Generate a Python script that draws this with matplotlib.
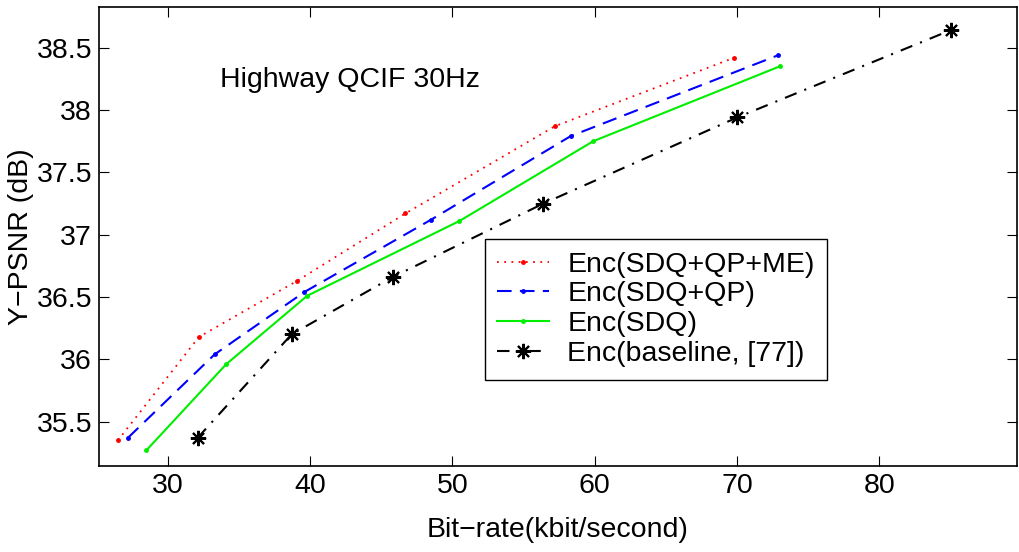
import matplotlib
matplotlib.use("Agg")
import matplotlib.pyplot as plt

plt.rcParams['font.family'] = ['Liberation Sans', 'DejaVu Sans']

# rate (kbit/s) and Y-PSNR (dB) for each encoder
rate_me = [26.5, 32.2, 39.1, 46.7, 57.2, 69.8]
psnr_me = [35.35, 36.18, 36.63, 37.17, 37.87, 38.42]

rate_qp = [27.2, 33.3, 39.6, 48.5, 58.3, 72.9]
psnr_qp = [35.37, 36.04, 36.54, 37.12, 37.79, 38.44]

rate_sdq = [28.5, 34.1, 39.8, 50.5, 59.9, 73.0]
psnr_sdq = [35.27, 35.96, 36.51, 37.11, 37.75, 38.35]

rate_base = [32.1, 38.7, 45.8, 56.4, 70.0, 85.0]
psnr_base = [35.37, 36.20, 36.66, 37.25, 37.94, 38.64]

labels = ['Enc(SDQ+QP+ME)', 'Enc(SDQ+QP)', 'Enc(SDQ)', 'Enc(baseline, [77])']

fs = 20.5

fig = plt.figure(figsize=(10.19, 5.52), dpi=100)
ax = fig.add_axes([0.0972, 0.1558, 0.9008, 0.8315])

ax.plot(rate_me, psnr_me, color='red', linestyle=(0, (1, 3)), lw=1.3,
        marker='.', markersize=5, label=labels[0])
ax.plot(rate_qp, psnr_qp, color='blue', linestyle=(0, (7, 4)), lw=1.5,
        marker='.', markersize=5, label=labels[1])
ax.plot(rate_sdq, psnr_sdq, color='#00ee00', linestyle='-', lw=1.5,
        marker='.', markersize=5, label=labels[2])
ax.plot(rate_base, psnr_base, color='black', linestyle=(0, (6, 4, 1, 4)), lw=1.5,
        marker=(8, 2, 0), markersize=11, markeredgewidth=1.5, label=labels[3])

ax.set_xlim(25.18, 89.66)
ax.set_ylim(35.145, 38.826)
ax.set_xticks([30, 40, 50, 60, 70, 80])
ax.set_yticks([35.5, 36, 36.5, 37, 37.5, 38, 38.5])
ax.set_yticklabels(['35.5', '36', '36.5', '37', '37.5', '38', '38.5'])
ax.tick_params(direction='in', length=7, top=True, right=True, labelsize=fs, pad=5)
for s in ax.spines.values():
    s.set_linewidth(1.2)

ax.set_xlabel('Bit\u2212rate(kbit/second)', fontsize=fs, labelpad=13)
ax.set_ylabel('Y\u2212PSNR (dB)', fontsize=fs, labelpad=2)

ax.text(33.7, 38.24, 'Highway QCIF 30Hz', fontsize=fs, va='center', ha='left')

leg = ax.legend(loc='upper left', bbox_to_anchor=(0.42, 0.495), fontsize=fs,
                frameon=True, fancybox=False, edgecolor='black', framealpha=1,
                numpoints=1, handlelength=1.8, labelspacing=0.13, borderpad=0.45,
                handletextpad=0.65, borderaxespad=0)
leg.get_frame().set_linewidth(1.0)

fig.savefig('out.png', dpi=100)
